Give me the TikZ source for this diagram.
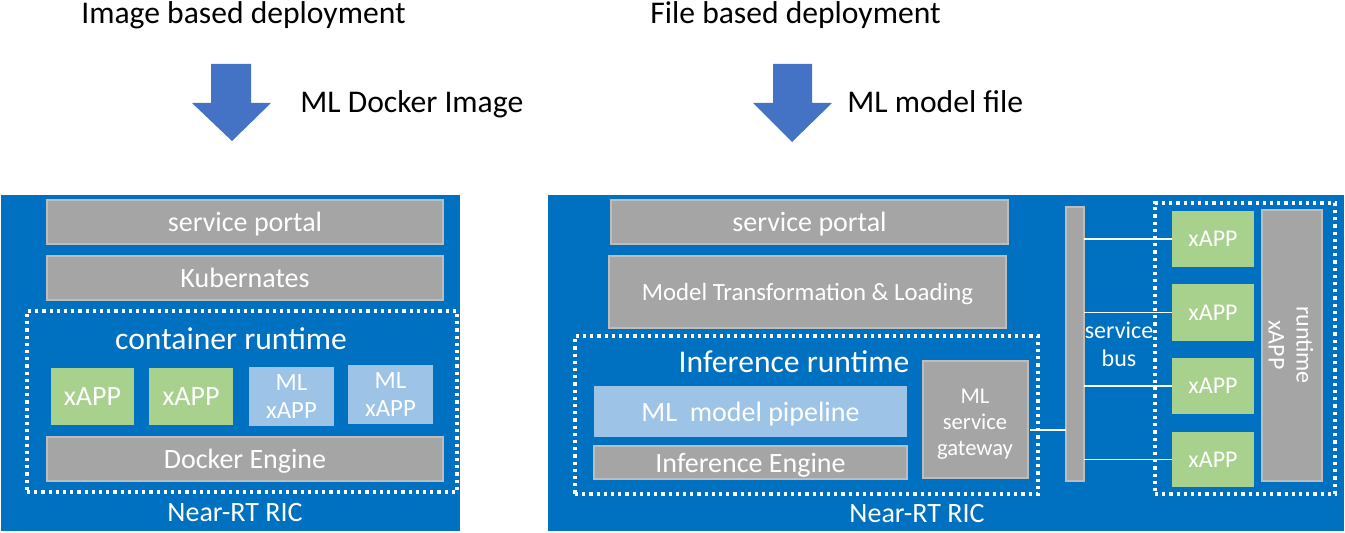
\documentclass[tikz,border=0pt]{standalone}
\usepackage{fontspec}
\setmainfont{Carlito}
\definecolor{ricblue}{HTML}{0070C0}
\definecolor{boxgray}{HTML}{A5A5A5}
\definecolor{boxgrayedge}{HTML}{BDBDBD}
\definecolor{xgreen}{HTML}{A9D18E}
\definecolor{xlblue}{HTML}{9DC3E6}
\definecolor{arrowblue}{HTML}{4472C4}
\newcommand\Rect[7]{\node[#2, minimum width={(#5-#3)*0.5pt}, minimum height={(#6-#4)*0.5pt}] (#1) at ({(#3+#5)/2},{(#4+#6)/2}) {#7};}
\tikzset{
  base/.style={rectangle, inner sep=0pt, outer sep=0pt, text=white, align=center},
  oneline/.style={text depth=0pt},
  ric/.style={base, fill=ricblue, draw=ricblue},
  graybox/.style={base, fill=boxgray, draw=boxgrayedge, line width=0.6pt},
  greenbox/.style={base, fill=xgreen},
  lbluebox/.style={base, fill=xlblue},
  busbar/.style={base, fill=boxgray, draw=boxgrayedge, line width=0.6pt},
  dotbox/.style={base, draw=white, line width=1.6pt, dash pattern=on 1.6pt off 2pt},
  fA/.style={font=\fontsize{14}{16.8}\selectfont},
  fB/.style={font=\fontsize{15.8}{19}\selectfont},
  fC/.style={font=\fontsize{12.4}{14}\selectfont},
  fD/.style={font=\fontsize{11.3}{13}\selectfont},
  fE/.style={font=\fontsize{12}{14}\selectfont},
  title/.style={text=black, inner sep=0pt, font=\fontsize{15.8}{19}\selectfont},
  wire/.style={draw=white, line width=0.8pt},
  bigarrow/.style={fill=arrowblue, draw=none},
}
\begin{document}
\begin{tikzpicture}[x=0.5pt,y=-0.5pt]
\useasboundingbox (0,0) rectangle (1345,533);
% titles
\node[title, anchor=base west] (t1) at (81,24) {Image based deployment};
\node[title, anchor=base west] (t2) at (650,24) {File based deployment};
\node[title, anchor=base west] (l1) at (300,113) {ML Docker Image};
\node[title, anchor=base west] (l2) at (847,113) {ML model file};
% arrows
\fill[bigarrow] (211,64) -- (251,64) -- (251,103) -- (271,103) -- (232,141) -- (192,103) -- (211,103) -- cycle;
\fill[bigarrow] (773,64) -- (812,64) -- (812,103) -- (832,103) -- (792,142) -- (753,103) -- (773,103) -- cycle;

% ===== left RIC =====
\Rect{ricL}{ric}{1}{195}{459}{530}{}
\Rect{spL}{graybox,fA,oneline}{47}{200}{443}{244}{service portal}
\Rect{k8s}{graybox,fA,oneline}{47}{256}{443}{300}{Kubernates}
\Rect{crL}{dotbox}{27}{311}{457}{492}{}
\node[base,fB] (crt) at (231,339) {container runtime};
\Rect{xa}{greenbox,fA,oneline}{51}{368}{134}{425}{xAPP}
\Rect{xb}{greenbox,fA,oneline}{149}{368}{233}{425}{xAPP}
\Rect{mla}{lbluebox,fC}{249}{367}{334}{426}{ML\\xAPP}
\Rect{mlb}{lbluebox,fC}{348}{365}{433}{424}{ML\\xAPP}
\Rect{de}{graybox,fA,oneline}{47}{437}{443}{481}{Docker Engine}
\node[base,fA,oneline] (nrL) at (235,512) {Near-RT RIC};

% ===== right RIC =====
\Rect{ricR}{ric}{548}{195}{1343}{530}{}
\Rect{spR}{graybox,fA,oneline}{611}{200}{1008}{244}{service portal}
\Rect{mtl}{graybox,fC,oneline}{609}{256}{1006}{328}{Model Transformation \& Loading}
\Rect{irDot}{dotbox}{575}{336}{1038}{494}{}
\node[base,fB] (irt) at (794,362) {Inference runtime};
\Rect{mmp}{lbluebox,fA,oneline}{594}{386}{907}{437}{ML\ \ model pipeline}
\Rect{ie}{graybox,fA,oneline}{594}{446}{907}{479}{Inference Engine}
\Rect{gw}{graybox}{923}{361}{1028}{478}{}
\node[base,fD] (gwt) at (975,424) {ML\\service\\gateway};
\node[base,fA,oneline] (nrR) at (917,513) {Near-RT RIC};
\Rect{bus}{busbar}{1066}{207}{1084}{481}{}
\node[base,fE] (bust) at (1119,344) {service\\bus};
\Rect{xDot}{dotbox}{1155}{203}{1335}{494}{}
\Rect{x1}{greenbox,fE,oneline}{1172}{211}{1254}{267}{xAPP}
\Rect{x2}{greenbox,fE,oneline}{1172}{284}{1254}{341}{xAPP}
\Rect{x3}{greenbox,fE,oneline}{1172}{358}{1254}{414}{xAPP}
\Rect{x4}{greenbox,fE,oneline}{1172}{432}{1254}{487}{xAPP}
\Rect{rtx}{graybox}{1262}{210}{1322}{481}{}
\node[base,fE,rotate=-90] (rtxt) at (1291,345) {runtime\\xAPP};
% connectors
\foreach \n in {x1,x2,x3,x4}{
  \draw[wire] (bus.east |- \n.west) -- (\n.west);
}
\coordinate (gwo) at (1030,430);
\draw[wire] (gwo) -- (bus.west |- gwo);
\end{tikzpicture}
\end{document}
